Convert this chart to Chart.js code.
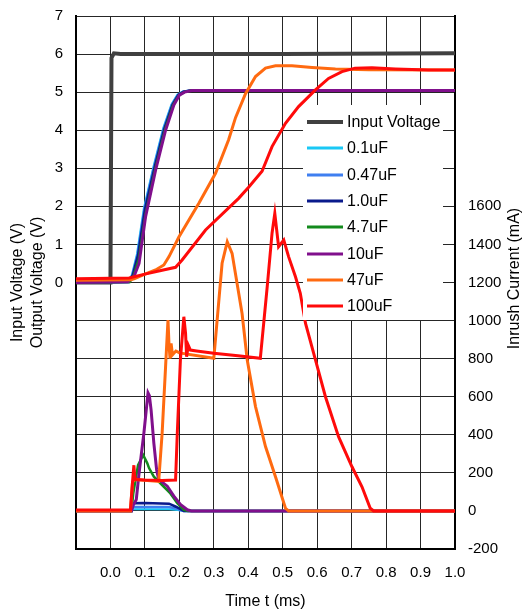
<!DOCTYPE html>
<html>
<head>
<meta charset="utf-8">
<script src="https://cdn.jsdelivr.net/npm/chart.js@4.4.0/dist/chart.umd.min.js"></script>
<style>
  html, body { margin: 0; padding: 0; background: #fff; }
</style>
</head>
<body>
<canvas id="chart" width="526" height="615"></canvas>
<script>
// ---- data (time in ms) ----
var capLabels = ['0.1uF', '0.47uF', '1.0uF', '4.7uF', '10uF', '47uF', '100uF'];
var capColors = ['#19c8f5', '#3f7ff0', '#0a1a8c', '#138a1c', '#800f8c', '#ff6a10', '#ff0a0a'];

// input voltage (V)
var vinT = [-0.1, 0.0, 0.003, 0.01, 0.03, 0.5, 1.0];
var vin  = [0, 0, 5.9, 6.02, 6.0, 6.0, 6.02];

// output voltage (V)
var voutT_0u1 = [-0.1, 0.052, 0.062, 0.077, 0.097, 0.125, 0.153, 0.177, 0.194, 0.209, 0.23, 1.0];
var vout_0u1  = [0, 0.01, 0.2, 0.75, 1.95, 3.05, 4.05, 4.68, 4.93, 5.01, 5.04, 5.04];
var voutT_0u47 = [-0.1, 0.053, 0.064, 0.079, 0.099, 0.127, 0.155, 0.179, 0.196, 0.211, 0.232, 1.0];
var vout_0u47  = [0, 0.01, 0.2, 0.75, 1.95, 3.05, 4.05, 4.68, 4.93, 5.01, 5.04, 5.04];
var voutT_1u0 = [-0.1, 0.054, 0.065, 0.08, 0.1, 0.128, 0.156, 0.18, 0.197, 0.212, 0.233, 1.0];
var vout_1u0  = [0, 0.01, 0.2, 0.72, 1.92, 3.02, 4.03, 4.67, 4.93, 5.01, 5.04, 5.04];
var voutT_4u7 = [-0.1, 0.056, 0.067, 0.082, 0.102, 0.13, 0.158, 0.182, 0.199, 0.214, 0.234, 1.0];
var vout_4u7  = [0, 0.01, 0.18, 0.6, 1.8, 2.98, 4.0, 4.66, 4.92, 5.0, 5.04, 5.04];
var voutT_10u = [-0.1, 0.05, 0.068, 0.083, 0.102, 0.131, 0.16, 0.184, 0.2, 0.215, 0.236, 1.0];
var vout_10u  = [0, 0.02, 0.15, 0.5, 1.73, 2.95, 4.0, 4.66, 4.92, 5.0, 5.04, 5.04];
var voutT_47u = [-0.1, 0.06, 0.07, 0.1, 0.131, 0.155, 0.17, 0.199, 0.257, 0.305, 0.343, 0.363, 0.392, 0.421, 0.45, 0.479, 0.527, 0.585, 0.653, 0.75, 1.0];
var vout_47u  = [0.06, 0.07, 0.1, 0.22, 0.33, 0.46, 0.68, 1.2, 2.09, 2.87, 3.75, 4.33, 4.96, 5.41, 5.63, 5.69, 5.69, 5.65, 5.61, 5.59, 5.58];
var voutT_100u = [-0.1, 0.054, 0.1, 0.15, 0.189, 0.208, 0.276, 0.372, 0.401, 0.44, 0.469, 0.508, 0.546, 0.595, 0.633, 0.672, 0.71, 0.759, 0.827, 0.923, 1.0];
var vout_100u  = [0.1, 0.12, 0.22, 0.32, 0.4, 0.59, 1.38, 2.21, 2.5, 2.92, 3.57, 4.18, 4.62, 5.06, 5.36, 5.54, 5.63, 5.64, 5.61, 5.58, 5.58];

// inrush current (mA)
var iinT_0u1 = [-0.1, 0.061, 0.064, 0.17, 0.195, 0.212, 1.0];
var iin_0u1  = [0, 0, 9, 9, 5, 0, 0];
var iinT_0u47 = [-0.1, 0.061, 0.064, 0.17, 0.195, 0.212, 1.0];
var iin_0u47  = [0, 0, 20, 20, 10, 0, 0];
var iinT_1u0 = [-0.1, 0.061, 0.064, 0.1, 0.17, 0.19, 0.213, 1.0];
var iin_1u0  = [0, 0, 40, 42, 38, 22, 0, 0];
var iinT_4u7 = [-0.1, 0.061, 0.066, 0.08, 0.095, 0.107, 0.112, 0.126, 0.155, 0.174, 0.194, 0.213, 0.225, 1.0];
var iin_4u7  = [0, 0, 90, 240, 294, 250, 225, 180, 127, 92, 40, 5, 0, 0];
var iinT_10u = [-0.1, 0.061, 0.066, 0.075, 0.083, 0.097, 0.109, 0.113, 0.118, 0.126, 0.134, 0.14, 0.165, 0.184, 0.203, 0.223, 0.235, 1.0];
var iin_10u  = [0, 0, 30, 60, 198, 408, 620, 605, 530, 355, 215, 165, 130, 78, 34, 6, 0, 0];
var iinT_47u = [-0.1, 0.058, 0.064, 0.07, 0.14, 0.15, 0.16, 0.167, 0.17, 0.173, 0.176, 0.18, 0.19, 0.2, 0.3, 0.324, 0.339, 0.353, 0.382, 0.397, 0.421, 0.45, 0.479, 0.508, 0.517, 1.0];
var iin_47u  = [0, 0, 150, 165, 155, 408, 758, 1003, 870, 800, 880, 820, 840, 830, 802, 1301, 1414, 1353, 1037, 793, 548, 338, 180, 14, 0, 0];
var iinT_100u = [-0.1, 0.058, 0.064, 0.068, 0.07, 0.073, 0.1, 0.15, 0.189, 0.194, 0.203, 0.213, 0.218, 0.221, 0.226, 0.232, 0.25, 0.3, 0.37, 0.435, 0.455, 0.469, 0.477, 0.488, 0.503, 0.517, 0.537, 0.551, 0.566, 0.595, 0.624, 0.662, 0.701, 0.73, 0.754, 0.764, 1.0];
var iin_100u  = [5, 5, 150, 240, 190, 165, 162, 160, 162, 408, 793, 1020, 933, 810, 870, 845, 840, 828, 815, 802, 1178, 1459, 1563, 1388, 1423, 1336, 1230, 1143, 986, 793, 600, 390, 232, 127, 14, 0, 0];

var voutTs = [voutT_0u1, voutT_0u47, voutT_1u0, voutT_4u7, voutT_10u, voutT_47u, voutT_100u];
var vouts  = [vout_0u1, vout_0u47, vout_1u0, vout_4u7, vout_10u, vout_47u, vout_100u];
var iinTs  = [iinT_0u1, iinT_0u47, iinT_1u0, iinT_4u7, iinT_10u, iinT_47u, iinT_100u];
var iins   = [iin_0u1, iin_0u47, iin_1u0, iin_4u7, iin_10u, iin_47u, iin_100u];
var capWidths = [2, 2.5, 2.5, 2.5, 3, 3, 3];

function pts(ts, vs) {
    return ts.map(function (t, i) { return {x: t, y: vs[i]}; });
}

var datasets = [];
datasets.push({label: 'Input Voltage', data: pts(vinT, vin), borderColor: '#404040', borderWidth: 4, yAxisID: 'y', legend: true});
capLabels.forEach(function (lab, i) {
    datasets.push({label: lab, data: pts(voutTs[i], vouts[i]), borderColor: capColors[i], borderWidth: capWidths[i], yAxisID: 'y', legend: true});
});
capLabels.forEach(function (lab, i) {
    datasets.push({label: lab + ' current', data: pts(iinTs[i], iins[i]), borderColor: capColors[i], borderWidth: capWidths[i], yAxisID: 'y2', legend: false});
});
// later datasets on top
datasets.forEach(function (ds, i) {
    ds.order = datasets.length - i;
    ds.pointRadius = 0;
    ds.tension = 0;
    ds.fill = false;
});

var FONT = '"Liberation Sans", Arial, sans-serif';
Chart.defaults.font.family = FONT;
Chart.defaults.font.size = 15;
Chart.defaults.color = '#000';

// legend box drawn over the plot, white background
var legendBox = {
    id: 'legendBox',
    afterDatasetsDraw: function (chart, args, opts) {
        var ctx = chart.ctx;
        ctx.save();
        ctx.fillStyle = '#fff';
        ctx.fillRect(opts.left, opts.top, opts.width, opts.height);
        ctx.font = '16px ' + FONT;
        ctx.textBaseline = 'middle';
        ctx.textAlign = 'left';
        var items = chart.data.datasets.filter(function (d) { return d.legend; });
        items.forEach(function (d, i) {
            var y = Math.round(opts.top + opts.firstRow + i * opts.rowGap);
            ctx.strokeStyle = d.borderColor;
            ctx.lineWidth = d.label === 'Input Voltage' ? 4 : 3;
            ctx.beginPath();
            ctx.moveTo(opts.left + 4, y);
            ctx.lineTo(opts.left + 40, y);
            ctx.stroke();
            ctx.fillStyle = '#000';
            ctx.fillText(d.label, opts.left + 44, y + 1);
        });
        ctx.restore();
    }
};

// right axis title reads bottom-to-top
var rightTitle = {
    id: 'rightTitle',
    afterDraw: function (chart, args, opts) {
        var s = chart.scales.y2;
        var ctx = chart.ctx;
        ctx.save();
        ctx.translate(s.right - 11, (s.top + s.bottom) / 2 - 4);
        ctx.rotate(-Math.PI / 2);
        ctx.font = '16px ' + FONT;
        ctx.fillStyle = '#000';
        ctx.textAlign = 'center';
        ctx.textBaseline = 'middle';
        ctx.fillText(opts.text, 0, 0);
        ctx.restore();
    }
};

var gridColor = '#262626';

function fixWidth(w) {
    return function (s) {
        s.width = w;
        s.paddingTop = 0;
        s.paddingBottom = 0;
    };
}

new Chart(document.getElementById('chart'), {
    type: 'line',
    data: {datasets: datasets},
    plugins: [legendBox, rightTitle],
    options: {
        responsive: false,
        animation: false,
        layout: {padding: {top: 16, left: 0, right: 0, bottom: 0}},
        plugins: {
            legend: {display: false},
            tooltip: {enabled: false},
            legendBox: {left: 303, top: 105, width: 140, height: 215, firstRow: 17, rowGap: 26.3},
            rightTitle: {text: 'Inrush Current (mA)'}
        },
        scales: {
            x: {
                type: 'linear',
                min: -0.1,
                max: 1.0,
                ticks: {
                    stepSize: 0.1,
                    padding: 15,
                    autoSkip: false,
                    maxRotation: 0,
                    callback: function (v) { return v < -0.05 ? '' : (Math.round(v * 10) / 10).toFixed(1); }
                },
                grid: {color: gridColor, lineWidth: 1, drawTicks: false},
                border: {color: '#000', width: 2},
                title: {display: true, text: 'Time t (ms)', font: {size: 16}, padding: {top: 0, bottom: 4}},
                afterFit: function (s) {
                    s.height = 66;
                    s.paddingLeft = 0;
                    s.paddingRight = 0;
                }
            },
            y: {
                position: 'left',
                min: -7,
                max: 7,
                ticks: {
                    stepSize: 1,
                    padding: 13,
                    callback: function (v) { return v >= 0 ? String(v) : ''; }
                },
                grid: {color: gridColor, lineWidth: 1, drawTicks: false},
                border: {color: '#000', width: 2},
                title: {display: true, text: ['Input Voltage (V)', 'Output Voltage (V)'], font: {size: 16, lineHeight: 1.25}, padding: {top: 8, bottom: 0}},
                afterFit: fixWidth(76)
            },
            y2: {
                position: 'right',
                min: -200,
                max: 2600,
                ticks: {
                    stepSize: 200,
                    padding: 13,
                    callback: function (v) { return v <= 1600 ? String(v) : ''; }
                },
                grid: {drawOnChartArea: false, drawTicks: false},
                border: {color: '#000', width: 2},
                afterFit: fixWidth(71)
            }
        }
    }
});
</script>
</body>
</html>
